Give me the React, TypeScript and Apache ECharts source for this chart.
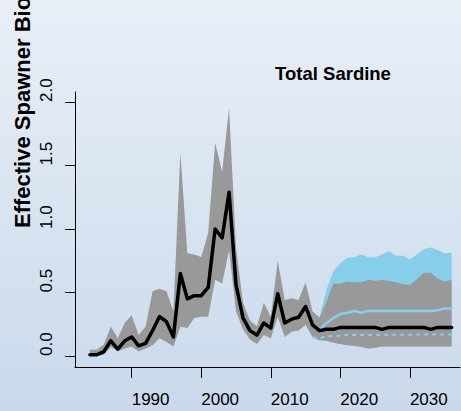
import React, { useEffect, useRef } from "react";
import * as echarts from "echarts";

const years = [
  1984, 1985, 1986, 1987, 1988, 1989, 1990, 1991, 1992, 1993, 1994, 1995, 1996, 1997, 1998, 1999,
  2000, 2001, 2002, 2003, 2004, 2005, 2006, 2007, 2008, 2009, 2010, 2011, 2012, 2013, 2014, 2015,
  2016, 2017, 2018, 2019, 2020, 2021, 2022, 2023, 2024, 2025, 2026, 2027, 2028, 2029, 2030, 2031,
  2032, 2033, 2034, 2035, 2036,
];
const median = [
  0.01, 0.01, 0.035, 0.12, 0.055, 0.12, 0.15, 0.08, 0.1, 0.2, 0.31, 0.27, 0.15, 0.65, 0.45, 0.475,
  0.475, 0.54, 1.0, 0.93, 1.29, 0.56, 0.3, 0.2, 0.165, 0.26, 0.22, 0.49, 0.26, 0.29, 0.305, 0.39,
  0.245, 0.2, 0.21, 0.21, 0.225, 0.225, 0.225, 0.225, 0.225, 0.225, 0.21, 0.225, 0.225, 0.225, 0.225, 0.225,
  0.225, 0.21, 0.225, 0.225, 0.225,
];
const grayUpper = [
  0.05, 0.05, 0.09, 0.23, 0.14, 0.26, 0.32, 0.165, 0.23, 0.51, 0.53, 0.51, 0.35, 1.6, 0.81, 0.8,
  0.78, 0.97, 1.68, 1.45, 1.95, 0.85, 0.42, 0.28, 0.235, 0.42, 0.31, 0.75, 0.44, 0.455, 0.44, 0.58,
  0.35, 0.3, 0.43, 0.57, 0.57, 0.585, 0.58, 0.58, 0.6, 0.59, 0.6, 0.59, 0.58, 0.565, 0.56, 0.605,
  0.655, 0.655, 0.61, 0.585, 0.6,
];
const grayLower = [
  0.0, 0.0, 0.01, 0.07, 0.035, 0.06, 0.075, 0.035, 0.06, 0.085, 0.14, 0.11, 0.075, 0.23, 0.22, 0.3,
  0.31, 0.31, 0.6, 0.57, 0.83, 0.35, 0.21, 0.13, 0.095, 0.165, 0.14, 0.31, 0.15, 0.19, 0.2, 0.245,
  0.15, 0.125, 0.12, 0.105, 0.095, 0.085, 0.08, 0.07, 0.06, 0.065, 0.075, 0.075, 0.075, 0.075, 0.075, 0.075,
  0.075, 0.075, 0.075, 0.075, 0.075,
];

const projYears = [
  2016, 2017, 2018, 2019, 2020, 2021, 2022, 2023, 2024, 2025, 2026, 2027, 2028, 2029, 2030, 2031,
  2032, 2033, 2034, 2035, 2036,
];
const blueUpper = [
  0.35, 0.31, 0.52, 0.67, 0.73, 0.775, 0.777, 0.8, 0.777, 0.777, 0.8, 0.826, 0.79, 0.79, 0.76, 0.8,
  0.84, 0.855, 0.835, 0.81, 0.815,
];
const blueLower = [
  0.15, 0.125, 0.12, 0.105, 0.095, 0.085, 0.08, 0.07, 0.06, 0.065, 0.075, 0.075, 0.075, 0.075, 0.075, 0.075,
  0.075, 0.075, 0.075, 0.075, 0.075,
];
const blueMedian = [
  null, 0.21, 0.26, 0.3, 0.33, 0.34, 0.355, 0.34, 0.355, 0.355, 0.355, 0.355, 0.355, 0.355, 0.355, 0.355,
  0.355, 0.355, 0.36, 0.375, 0.375,
];
const blueDashed = [
  0.145, 0.14, 0.155, 0.157, 0.16, 0.165, 0.165, 0.165, 0.165, 0.165, 0.168, 0.168, 0.168, 0.168, 0.168, 0.17,
  0.17, 0.17, 0.17, 0.17, 0.17,
];

const xTicks = [1990, 2000, 2010, 2020, 2030];
const yTicks = [0, 0.5, 1.0, 1.5, 2.0];

const GRAY = "#999999";
const BLUE = "#87ceeb";
const FONT = "Liberation Sans, Arial, sans-serif";

export default function App() {
  const ref = useRef<HTMLDivElement>(null);
  useEffect(() => {
    if (!ref.current) return;
    const chart = echarts.init(ref.current, undefined, { renderer: "svg" });

    const pairs = (xs: number[], ys: (number | null)[]) => xs.map((x, i) => [x, ys[i]]);

    const band = (xs: number[], up: number[], lo: number[], fill: string) => ({
      type: "custom",
      data: pairs(xs, up),
      encode: { x: 0, y: 1 },
      clip: true,
      silent: true,
      z: 1,
      renderItem: (params: any, api: any) => {
        if (params.dataIndex !== 0) return null;
        const pts: number[][] = [];
        xs.forEach((x, i) => pts.push(api.coord([x, up[i]])));
        for (let i = xs.length - 1; i >= 0; i--) pts.push(api.coord([xs[i], lo[i]]));
        return {
          type: "polygon",
          shape: { points: pts },
          style: { fill, stroke: "none" },
        };
      },
    });

    chart.setOption({
      animation: false,
      backgroundColor: "transparent",
      grid: { left: 75, top: 92, right: 1, bottom: 44, containLabel: false },
      xAxis: {
        type: "value",
        min: 1981.85,
        max: 2037.2,
        axisLine: { show: true, onZero: false, lineStyle: { color: "#000", width: 1 } },
        axisTick: { show: true, customValues: xTicks, length: 11, lineStyle: { color: "#000", width: 1 } },
        axisLabel: {
          customValues: xTicks,
          align: "left",
          margin: 24,
          fontSize: 17,
          color: "#000",
          fontFamily: FONT,
          formatter: (v: number) => String(Math.round(v)),
        },
        splitLine: { show: false },
      },
      yAxis: {
        type: "value",
        min: -0.0866,
        max: 2.0787,
        axisLine: { show: true, onZero: false, lineStyle: { color: "#000", width: 1 } },
        axisTick: { show: true, customValues: yTicks, length: 10, lineStyle: { color: "#000", width: 1 } },
        axisLabel: {
          customValues: yTicks,
          rotate: 90,
          align: "left",
          margin: 20,
          fontSize: 17,
          color: "#000",
          fontFamily: FONT,
          formatter: (v: number) => v.toFixed(1),
        },
        splitLine: { show: false },
      },
      graphic: [
        {
          type: "text",
          x: 333,
          y: 73,
          style: {
            text: "Total Sardine",
            fontSize: 18.5,
            fontWeight: "bold",
            fontFamily: FONT,
            fill: "#000",
            textAlign: "center",
            textVerticalAlign: "middle",
          },
        },
        {
          type: "text",
          x: 22,
          y: 228,
          rotation: Math.PI / 2,
          style: {
            text: "Effective Spawner Biomass",
            fontSize: 22,
            fontWeight: "bold",
            fontFamily: FONT,
            fill: "#000",
            textAlign: "left",
            textVerticalAlign: "middle",
          },
        },
      ],
      series: [
        band(projYears, blueUpper, blueLower, BLUE),
        band(years, grayUpper, grayLower, GRAY),
        {
          type: "line",
          z: 3,
          data: pairs(projYears, blueMedian),
          showSymbol: false,
          lineStyle: { color: BLUE, width: 2.5, join: "round", cap: "round" },
          silent: true,
        },
        {
          type: "line",
          z: 3,
          data: pairs(projYears, blueDashed),
          showSymbol: false,
          lineStyle: { color: BLUE, width: 2, type: [4, 4] },
          silent: true,
        },
        {
          type: "line",
          z: 4,
          data: pairs(years, median),
          showSymbol: false,
          lineStyle: { color: "#000", width: 3.5, join: "round", cap: "round" },
          silent: true,
        },
      ],
    });
    return () => chart.dispose();
  }, []);

  return (
    <div
      style={{
        position: "fixed",
        left: 0,
        top: 0,
        width: 461,
        height: 411,
        background: "linear-gradient(180deg, #e9eff7 0%, #c9d9eb 100%)",
      }}
    >
      <div ref={ref} style={{ width: 461, height: 411 }} />
    </div>
  );
}
